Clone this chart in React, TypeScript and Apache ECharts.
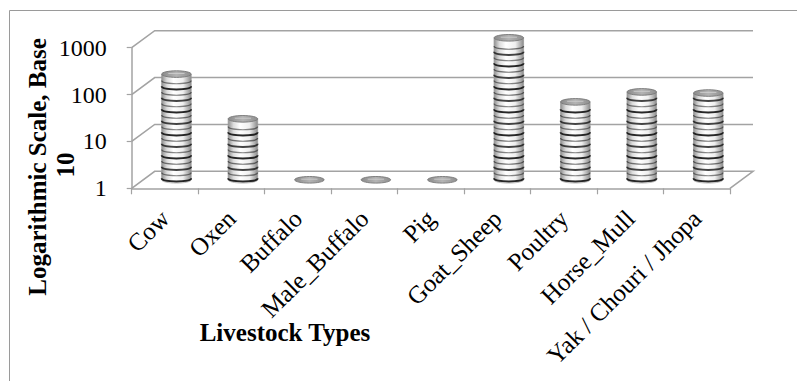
import React, { useEffect, useRef } from "react";
import * as echarts from "echarts";

// Livestock categories and their counts (drawn on a base-10 log scale)
const categories = [
  "Cow",
  "Oxen",
  "Buffalo",
  "Male_Buffalo",
  "Pig",
  "Goat_Sheep",
  "Poultry",
  "Horse_Mull",
  "Yak / Chouri / Jhopa",
];
const counts = [180, 20, 1, 1, 1, 1070, 46, 75, 71];

// Gridline levels on the back wall
const gridLevels = [1, 10, 100, 1000];

const yTitle = "Logarithmic Scale, Base";
const yTitle2 = "10";
const xTitle = "Livestock Types";

// Perspective offset from the front plane to the back wall
const DX = 23;
const DY = -17;

const SERIF = '"Liberation Serif", "Times New Roman", serif';
const GRID_GRAY = "#a3a3a3";

export default function App() {
  const ref = useRef<HTMLDivElement>(null);

  useEffect(() => {
    if (!ref.current) return;
    const chart = echarts.init(ref.current, undefined, { renderer: "svg" });

    const bodyFill = new echarts.graphic.LinearGradient(0, 0, 1, 0, [
      { offset: 0, color: "#8f8f8f" },
      { offset: 0.18, color: "#dcdcdc" },
      { offset: 0.4, color: "#ffffff" },
      { offset: 0.72, color: "#efefef" },
      { offset: 1, color: "#8a8a8a" },
    ]);
    const capFill = new echarts.graphic.LinearGradient(0, 0, 1, 0, [
      { offset: 0, color: "#8a8a8a" },
      { offset: 0.5, color: "#b4b4b4" },
      { offset: 1, color: "#8e8e8e" },
    ]);

    const option = {
      animation: false,
      backgroundColor: "#ffffff",
      grid: { left: 131.7, right: 67, top: 47.7, bottom: 192.7, containLabel: false },
      xAxis: {
        type: "category",
        data: categories,
        boundaryGap: true,
        axisLine: { show: true, lineStyle: { color: GRID_GRAY, width: 1.5 } },
        axisTick: { show: true, length: 6, lineStyle: { color: GRID_GRAY, width: 1.2 } },
        axisLabel: {
          interval: 0,
          rotate: 45,
          margin: 26,
          fontFamily: SERIF,
          fontSize: 25,
          color: "#000",
        },
        splitLine: { show: false },
      },
      yAxis: {
        type: "log",
        logBase: 10,
        min: 1,
        max: 1000,
        axisLine: { show: true, lineStyle: { color: GRID_GRAY, width: 1.5 } },
        axisTick: { show: true, length: 5, lineStyle: { color: GRID_GRAY, width: 1.2 } },
        axisLabel: {
          margin: 25,
          fontFamily: SERIF,
          fontSize: 24,
          color: "#000",
          formatter: (v: number) => String(Math.round(v)),
        },
        splitLine: { show: false },
      },
      graphic: [
        {
          type: "rect",
          shape: { x: 9.5, y: 10.5, width: 820, height: 420 },
          style: { fill: "none", stroke: "#9a9a9a", lineWidth: 1 },
          silent: true,
          z: -10,
        },
        {
          type: "text",
          x: 37,
          y: 167,
          rotation: Math.PI / 2,
          style: {
            text: yTitle,
            font: `bold 25px ${SERIF}`,
            fill: "#000",
            align: "center",
            verticalAlign: "middle",
          },
        },
        {
          type: "text",
          x: 65,
          y: 165,
          rotation: Math.PI / 2,
          style: {
            text: yTitle2,
            font: `bold 25px ${SERIF}`,
            fill: "#000",
            align: "center",
            verticalAlign: "middle",
          },
        },
        {
          type: "text",
          x: 285,
          y: 332,
          style: {
            text: xTitle,
            font: `bold 25px ${SERIF}`,
            fill: "#000",
            align: "center",
            verticalAlign: "middle",
          },
        },
      ],
      series: [
        {
          // Back wall gridlines, side wall diagonals and floor outline
          type: "custom",
          data: gridLevels.map((lvl) => [0, lvl]),
          z: 1,
          silent: true,
          renderItem: (params: any, api: any) => {
            const lvl = api.value(1);
            const cs = params.coordSys;
            const y = api.coord([0, lvl])[1];
            const x0 = cs.x;
            const x1 = cs.x + cs.width;
            const pts: number[][] = [
              [x0, y],
              [x0 + DX, y + DY],
              [x1 + DX, y + DY],
            ];
            if (lvl === gridLevels[0]) pts.push([x1, y]);
            return {
              type: "polyline",
              shape: { points: pts },
              style: { stroke: GRID_GRAY, lineWidth: 1.6, fill: "none" },
            };
          },
        },
        {
          // Striped 3D cylinders
          type: "custom",
          data: counts.map((v, i) => [i, v]),
          z: 3,
          renderItem: (params: any, api: any) => {
            const idx = api.value(0);
            const v = api.value(1);
            const top = api.coord([idx, v]);
            const base = api.coord([idx, 1]);
            const band = api.size([1, 0])[0];
            const r = band * 0.222;
            const ry = 3.3;
            const cx = top[0] + DX / 2;
            const yTop = top[1] + DY / 2;
            const yBase = base[1] + DY / 2;
            const children: any[] = [];
            if (yBase - yTop > 1) {
              children.push({
                type: "ellipse",
                shape: { cx, cy: yBase, rx: r, ry },
                style: { fill: bodyFill, stroke: "#b0b0b0", lineWidth: 0.8 },
              });
              children.push({
                type: "rect",
                shape: { x: cx - r, y: yTop, width: 2 * r, height: yBase - yTop },
                style: { fill: bodyFill },
              });
              children.push({
                type: "line",
                shape: { x1: cx - r, y1: yTop, x2: cx - r, y2: yBase },
                style: { stroke: "#9a9a9a", lineWidth: 0.8 },
              });
              children.push({
                type: "line",
                shape: { x1: cx + r, y1: yTop, x2: cx + r, y2: yBase },
                style: { stroke: "#9a9a9a", lineWidth: 0.8 },
              });
              const step = 5.75;
              const shades = [0.9, 0.5, 0.78, 0.55];
              for (let k = 0, y = yBase - 1.5; y > yTop + 3; k++, y -= step) {
                const c = y + ry * 1.3;
                children.push({
                  type: "bezierCurve",
                  shape: {
                    x1: cx - r,
                    y1: y,
                    x2: cx + r,
                    y2: y,
                    cpx1: cx - r,
                    cpy1: c,
                    cpx2: cx + r,
                    cpy2: c,
                  },
                  style: {
                    stroke: "#111",
                    opacity: shades[k % shades.length],
                    lineWidth: k % 2 === 0 ? 1.8 : 1.2,
                    fill: "none",
                  },
                });
              }
            }
            children.push({
              type: "ellipse",
              shape: { cx, cy: yTop, rx: r, ry },
              style: { fill: capFill, stroke: "#777", lineWidth: 0.9 },
            });
            children.push({
              type: "line",
              shape: { x1: cx - r * 0.55, y1: yTop - 0.6, x2: cx + r * 0.55, y2: yTop - 0.6 },
              style: { stroke: "#d0d0d0", lineWidth: 0.8 },
            });
            return { type: "group", children };
          },
        },
      ],
    };

    chart.setOption(option as any);
    return () => chart.dispose();
  }, []);

  return (
    <div
      ref={ref}
      style={{ position: "absolute", left: 0, top: 0, width: 797, height: 381, background: "#fff" }}
    />
  );
}
